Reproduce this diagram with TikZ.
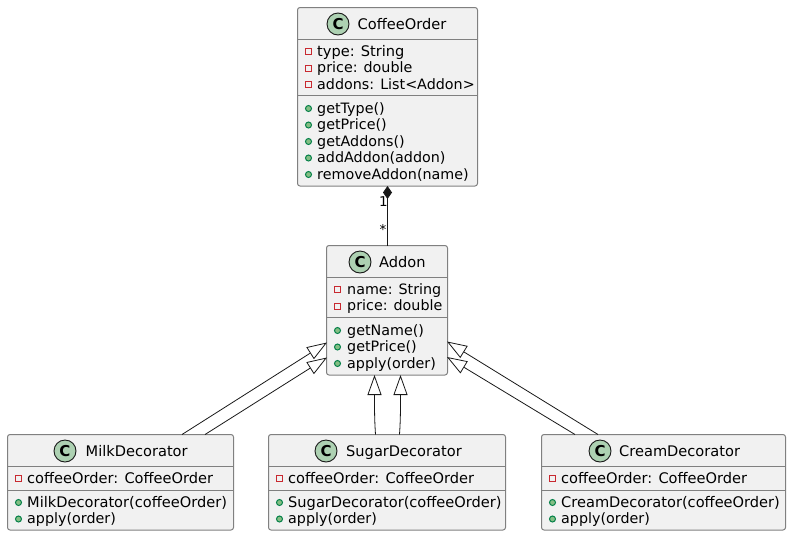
\documentclass[tikz,border=0pt]{standalone}
\usepackage{fontspec}
\setmainfont{DejaVu Sans}
\usetikzlibrary{arrows.meta}
\definecolor{boxfill}{HTML}{F1F1F1}
\definecolor{boxline}{HTML}{808080}
\definecolor{spotfill}{HTML}{ADD1B2}
\definecolor{privred}{HTML}{C82930}
\definecolor{pubfill}{HTML}{84BE84}
\definecolor{publine}{HTML}{038048}
\definecolor{inkline}{HTML}{181818}
\tikzset{
  classbox/.style={draw=boxline,fill=boxfill,rounded corners=2.5pt,line width=1pt,inner sep=0pt,outer sep=0pt,anchor=north west},
  spot/.style={circle,draw=inkline,fill=spotfill,line width=0.9pt,minimum size=22pt,inner sep=0pt,font=\fontsize{15}{15}\selectfont\bfseries},
  title/.style={anchor=base west,inner sep=0pt,font=\fontsize{14.6}{14.6}\selectfont},
  member/.style={anchor=base west,inner sep=0pt,font=\fontsize{14.6}{14.6}\selectfont},
  tight/.style={font=\fontsize{14.3}{14.3}\selectfont},
  priv/.style={draw=privred,line width=1pt,minimum size=6pt,inner sep=0pt},
  pub/.style={circle,draw=publine,fill=pubfill,line width=1pt,minimum size=6pt,inner sep=0pt},
  sep/.style={draw=boxline,line width=1pt},
  rel/.style={draw=inkline,line width=0.8pt},
  inherit/.style={rel,-{Triangle[open,length=20pt,width=14pt,fill=white]}},
  mult/.style={inner sep=0pt,font=\fontsize{13.5}{13.5}\selectfont}
}
\begin{document}
\begin{tikzpicture}[x=1pt,y=-1pt]
\useasboundingbox (0,0) rectangle (791,536);

% CoffeeOrder
\node[classbox,minimum width=180pt,minimum height=178.5pt] (coffee) at (297.5,7.5) {};
\node[spot] (coffeespot) at (338,24) {C};
\node[title] (coffeetitle) at (357.5,29) {CoffeeOrder};
\draw[sep] (coffee.west |- 0,39.5) -- (coffee.east |- 0,39.5);
\draw[sep] (coffee.west |- 0,95.5) -- (coffee.east |- 0,95.5);
\node[priv] (c1m) at (308.5,51.5) {}; \node[member] (c1) at (317,56) {type: String};
\node[priv] (c2m) at (308.5,68) {};   \node[member,tight] (c2) at (317,72) {price: double};
\node[priv] (c3m) at (308.5,84.5) {}; \node[member,tight] (c3) at (317,89) {addons: List<Addon>};
\node[pub] (c4m) at (308.5,108.5) {}; \node[member,tight] (c4) at (317,113) {getType()};
\node[pub] (c5m) at (308.5,125) {};   \node[member,tight] (c5) at (317,129.5) {getPrice()};
\node[pub] (c6m) at (308.5,141.5) {}; \node[member,tight] (c6) at (317,146) {getAddons()};
\node[pub] (c7m) at (308.5,158) {};   \node[member,tight] (c7) at (317,162.5) {addAddon(addon)};
\node[pub] (c8m) at (308.5,174.5) {}; \node[member,tight] (c8) at (317,179) {removeAddon(name)};

% Addon
\node[classbox,minimum width=121pt,minimum height=129.5pt] (addon) at (326.5,245.5) {};
\node[spot] (addonspot) at (360,262) {C};
\node[title] (addontitle) at (379,267) {Addon};
\draw[sep] (addon.west |- 0,277.5) -- (addon.east |- 0,277.5);
\draw[sep] (addon.west |- 0,317.5) -- (addon.east |- 0,317.5);
\node[priv] (a1m) at (337.5,289.5) {}; \node[member,tight] (a1) at (347,294) {name: String};
\node[priv] (a2m) at (337.5,306) {};   \node[member,tight] (a2) at (347,310.5) {price: double};
\node[pub] (a3m) at (337.5,330.5) {};  \node[member,tight] (a3) at (347,335) {getName()};
\node[pub] (a4m) at (337.5,347) {};    \node[member,tight] (a4) at (347,351.5) {getPrice()};
\node[pub] (a5m) at (337.5,363.5) {};  \node[member,tight] (a5) at (347,368) {apply(order)};

% MilkDecorator
\node[classbox,minimum width=226pt,minimum height=95.5pt] (milk) at (7.5,434.5) {};
\node[spot] (milkspot) at (65,451) {C};
\node[title] (milktitle) at (85.5,456) {MilkDecorator};
\draw[sep] (milk.west |- 0,466.5) -- (milk.east |- 0,466.5);
\draw[sep] (milk.west |- 0,490.5) -- (milk.east |- 0,490.5);
\node[priv] (m1m) at (18.5,478.5) {}; \node[member] (m1) at (27,483) {coffeeOrder: CoffeeOrder};
\node[pub] (m2m) at (18.5,502.5) {};  \node[member] (m2) at (27,507) {MilkDecorator(coffeeOrder)};
\node[pub] (m3m) at (18.5,519) {};    \node[member,tight] (m3) at (27,523.5) {apply(order)};

% SugarDecorator
\node[classbox,minimum width=237pt,minimum height=95.5pt] (sugar) at (268.5,434.5) {};
\node[spot] (sugarspot) at (326,451) {C};
\node[title] (sugartitle) at (346,456) {SugarDecorator};
\draw[sep] (sugar.west |- 0,466.5) -- (sugar.east |- 0,466.5);
\draw[sep] (sugar.west |- 0,490.5) -- (sugar.east |- 0,490.5);
\node[priv] (s1m) at (279.5,478.5) {}; \node[member] (s1) at (288,483) {coffeeOrder: CoffeeOrder};
\node[pub] (s2m) at (279.5,502.5) {};  \node[member] (s2) at (288,507) {SugarDecorator(coffeeOrder)};
\node[pub] (s3m) at (279.5,519) {};    \node[member,tight] (s3) at (288,523.5) {apply(order)};

% CreamDecorator
\node[classbox,minimum width=244pt,minimum height=95.5pt] (cream) at (541.5,434.5) {};
\node[spot] (creamspot) at (600,451) {C};
\node[title] (creamtitle) at (619,456) {CreamDecorator};
\draw[sep] (cream.west |- 0,466.5) -- (cream.east |- 0,466.5);
\draw[sep] (cream.west |- 0,490.5) -- (cream.east |- 0,490.5);
\node[priv] (r1m) at (552.5,478.5) {}; \node[member] (r1) at (561,483) {coffeeOrder: CoffeeOrder};
\node[pub] (r2m) at (552.5,502.5) {};  \node[member] (r2) at (561,507) {CreamDecorator(coffeeOrder)};
\node[pub] (r3m) at (552.5,519) {};    \node[member,tight] (r3) at (561,523.5) {apply(order)};

% composition
\coordinate (coffeefoot) at (coffee.south -| 387.5,0);
\coordinate (addonhead) at (addon.north -| 387.5,0);
\draw[rel,{Diamond[fill=inkline,length=13pt,width=9pt]}-] (coffeefoot) -- (addonhead);
\node[mult] (one) at (383.5,201.5) {1};
\node[mult] (many) at (383,229.5) {*};

% inheritance
\coordinate (milktop1) at (182,434.5);
\coordinate (milktop2) at (205,434.5);
\coordinate (addonl1) at (327,342.5);
\coordinate (addonl2) at (327,357.5);
\coordinate (sugartop1) at (375.5,434.5);
\coordinate (sugartop2) at (399.5,434.5);
\coordinate (addonb1) at (374.5,375);
\coordinate (addonb2) at (400.5,375);
\coordinate (creamtop1) at (598,434.5);
\coordinate (creamtop2) at (575,434.5);
\coordinate (addonr1) at (447,341.5);
\coordinate (addonr2) at (447,357);
\draw[inherit] (milktop1) -- (addonl1);
\draw[inherit] (milktop2) -- (addonl2);
\draw[inherit] (sugartop1) .. controls (374.5,420) and (374.5,410) .. (addonb1);
\draw[inherit] (sugartop2) .. controls (400.5,420) and (400.5,410) .. (addonb2);
\draw[inherit] (creamtop1) -- (addonr1);
\draw[inherit] (creamtop2) -- (addonr2);
\end{tikzpicture}
\end{document}
